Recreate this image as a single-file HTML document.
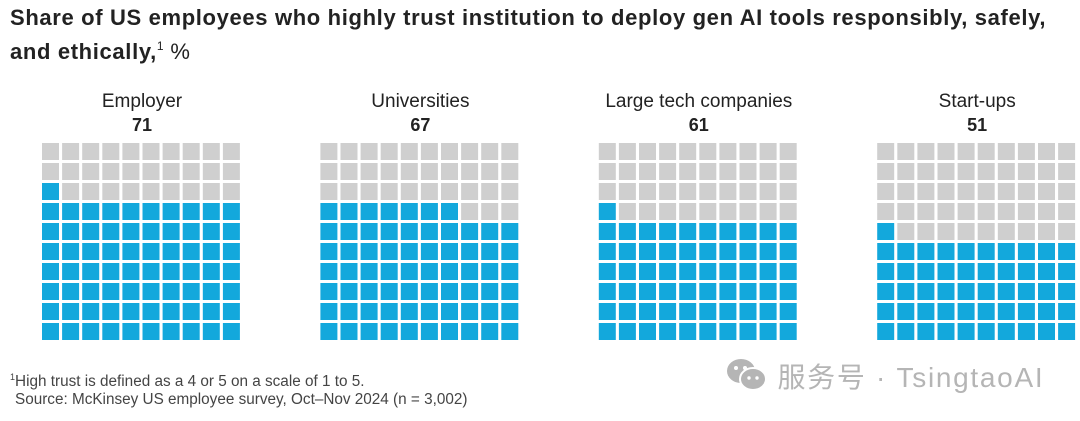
<!DOCTYPE html>
<html><head><meta charset="utf-8">
<style>
body{margin:0;width:1080px;height:421px;background:#fff;font-family:"Liberation Sans","Noto Sans CJK SC",sans-serif;color:#222;position:relative;overflow:hidden}
#title{position:absolute;left:10px;top:4px;font-size:22px;font-weight:bold;line-height:28px;white-space:nowrap;letter-spacing:0.65px}
#title sup{font-size:12px;font-weight:normal;vertical-align:9px;letter-spacing:0}
#title .pct{font-weight:normal}
.foot{position:absolute;left:10px;font-size:15.3px;color:#444;white-space:nowrap}
#wm{position:absolute;left:726px;top:356px;font-size:28px;color:#b5b5b5;white-space:nowrap;letter-spacing:1.7px}
</style></head><body>
<div id="title">Share of US employees who highly trust institution to deploy gen AI tools responsibly, safely,<br>and ethically,<sup>1</sup> <span class="pct">%</span></div>
<svg id="chart" width="1080" height="421" style="position:absolute;left:0;top:0"></svg>
<div class="foot" style="top:372px"><sup style="font-size:9px">1</sup>High trust is defined as a 4 or 5 on a scale of 1 to 5.</div>
<div class="foot" style="top:391px;left:15px">Source: McKinsey US employee survey, Oct–Nov 2024 (n = 3,002)</div>
<div id="wm"><svg width="42" height="34" viewBox="0 0 42 34" style="vertical-align:-5px"><ellipse cx="15" cy="13" rx="14" ry="12" fill="#b5b5b5"/><ellipse cx="27" cy="21" rx="13" ry="11" fill="#b5b5b5" stroke="#fff" stroke-width="2"/><circle cx="10" cy="10" r="2" fill="#fff"/><circle cx="19" cy="10" r="2" fill="#fff"/><circle cx="23" cy="20" r="1.7" fill="#fff"/><circle cx="31" cy="20" r="1.7" fill="#fff"/></svg> 服务号 · TsingtaoAI</div>
<script>
const categories=["Employer","Universities","Large tech companies","Start-ups"];
const values=[71,67,61,51];
const svg=document.getElementById('chart');
const NS="http://www.w3.org/2000/svg";
const gridX=i=>42+i*278.4;
const colX=c=>c*20.1;
const rowY=r=>143+r*20;
categories.forEach((cat,i)=>{
  const x0=gridX(i);
  const cx=x0+100;
  const t=document.createElementNS(NS,'text');
  t.setAttribute('x',cx);t.setAttribute('y',107);t.setAttribute('text-anchor','middle');
  t.setAttribute('font-size','19');t.setAttribute('fill','#222');
  t.textContent=cat;
  
  
  svg.appendChild(t);
  const v=document.createElementNS(NS,'text');
  v.setAttribute('x',cx);v.setAttribute('y',131);v.setAttribute('text-anchor','middle');
  v.setAttribute('font-size','18');v.setAttribute('font-weight','bold');v.setAttribute('fill','#222');
  v.textContent=values[i];
  
  
  svg.appendChild(v);
  for(let k=0;k<100;k++){
    const r=9-Math.floor(k/10), c=k%10;
    const s=document.createElementNS(NS,'rect');
    s.setAttribute('x',x0+colX(c));s.setAttribute('y',rowY(r));
    s.setAttribute('width',17);s.setAttribute('height',17);
    s.setAttribute('fill',k<values[i]?'#13a8dc':'#cfcfcf');
    
    
    svg.appendChild(s);
  }
});
</script>
</body></html>
